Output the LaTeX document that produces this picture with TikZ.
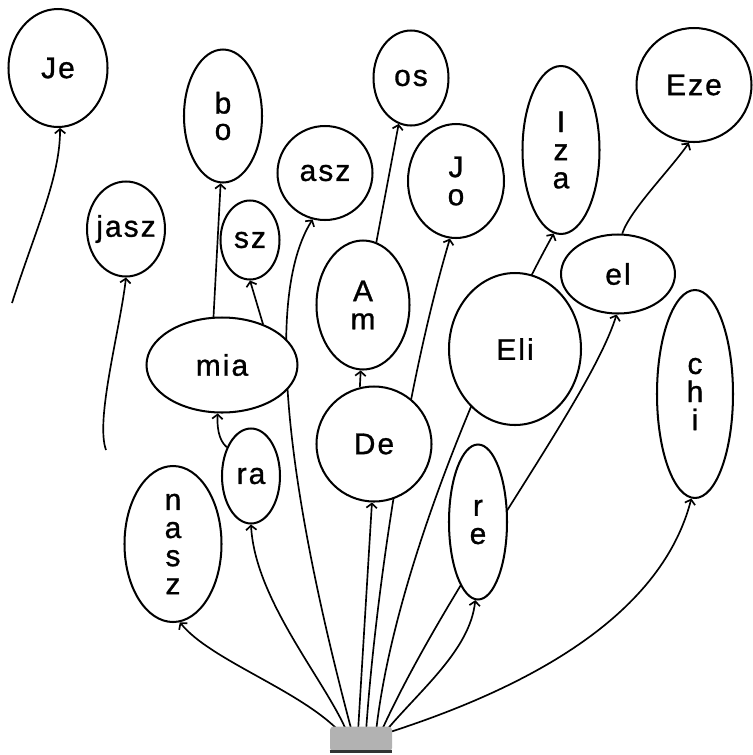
\documentclass[tikz,border=0pt]{standalone}
\usepackage{fontspec}
\setmainfont{Liberation Sans}
\usetikzlibrary{shapes.geometric,arrows.meta,backgrounds}

\newcommand\balloonfont{\fontsize{17}{16}\selectfont\addfontfeatures{LetterSpace=7,FakeBold=1}}

\tikzset{
  balloon/.style={ellipse, draw, line width=1.15pt, fill=white, inner sep=0pt},
  bsize/.style 2 args={minimum width=#1*0.02cm, minimum height=#2*0.02cm},
  tether/.style={line width=0.95pt, -{Straight Barb[length=2.5pt,width=6pt]}},
  basebox/.style={rectangle, fill=gray!60, inner sep=0pt, rounded corners=2pt,
    minimum width=62*0.02cm, minimum height=25*0.02cm},
  every label/.style={font=\balloonfont, align=center},
}

\begin{document}
\begin{tikzpicture}[x=0.02cm, y=-0.02cm]
    \useasboundingbox (0,0) rectangle (753,755);

    % balloons
    \node[balloon, bsize={99}{118}, label=center:Je] (Je) at (58,68) {};
    \node[balloon, bsize={78}{95}, label=center:jasz] (jasz) at (126,229) {};
    \node[balloon, bsize={78}{133}, label={center:b\\[-1pt]o}] (bo) at (223,116) {};
    \node[balloon, bsize={59}{79}, label=center:sz] (sz) at (250,240) {};
    \node[balloon, bsize={95}{94}, label=center:asz] (asz) at (325,173) {};
    \node[balloon, bsize={151}{95}, label=center:mia] (mia) at (222,365) {};
    \node[balloon, bsize={58}{95}, label=center:ra] (ra) at (251,476) {};
    \node[balloon, bsize={97}{156}, label={center:n\\a\\s\\z}] (nasz) at (173,544) {};
    \node[balloon, bsize={75}{95}, label=center:os] (os) at (411,78) {};
    \node[balloon, bsize={93}{129}, label={center:A\\m}] (Am) at (363,305) {};
    \node[balloon, bsize={115}{115}, label=center:De] (De) at (374,444) {};
    \node[balloon, bsize={96}{114}, label={center:J\\o}] (Jo) at (456,181) {};
    \node[balloon, bsize={77}{168}, label={center:I\\z\\a}] (Iza) at (561,150) {};
    \node[balloon, bsize={132}{152}, label=center:Eli] (Eli) at (515,349) {};
    \node[balloon, bsize={115}{114}, label=center:Eze] (Eze) at (694,85) {};
    \node[balloon, bsize={114}{79}, label=center:el] (el) at (618,274) {};
    \node[balloon, bsize={58}{155}, label={center:r\\e}] (re) at (478,522) {};
    \node[balloon, bsize={76}{208}, label={center:c\\h\\i}] (chi) at (695,394) {};

    % the weight all the strings meet in
    \node[basebox] (base) at (361,739) {};
    \draw[line width=1.6pt, black!80] (base.south west) -- (base.south east);
    \foreach \i/\x in {1/340,2/347,3/352,4/358,5/366,6/376,7/381,8/385,9/390}
        \coordinate (b\i) at (\x,732);

    \coordinate (je-end) at (12,303);
    \coordinate (jasz-end) at (106,450);

    \begin{scope}[on background layer]
        \draw[tether] (je-end) .. controls (36,228) and (60,178) .. (Je.272);
        \draw[tether] (jasz-end) .. controls (95,420) and (120,330) .. (jasz.south);
        \draw[tether] (mia.100) -- (bo.268);
        \draw[tether] (mia.45) -- (sz.south);
        \draw[tether] (ra.130) .. controls (218,440) and (217,425) .. (mia.265);
        \draw[tether] (De.104) -- (Am.268);
        \draw[tether] (Am.78) -- (os.255);
        \draw[tether] (el.84) .. controls (630,210) and (670,170) .. (Eze.265);
        % strings from the weight
        \draw[tether] (b1) .. controls (300,690) and (210,660) .. (nasz.275);
        \draw[tether] (b2) .. controls (325,680) and (255,600) .. (ra.south);
        \draw[tether] (b3) .. controls (290,500) and (262,300) .. (asz.255);
        \draw[tether] (b4) -- (De.268);
        \draw[tether] (b5) .. controls (375,600) and (405,390) .. (Jo.264);
        \draw[tether] (b6) .. controls (395,560) and (500,330) .. (Iza.265);
        \draw[tether] (b7) .. controls (450,580) and (590,400) .. (el.268);
        \draw[tether] (b8) .. controls (420,690) and (470,650) .. (re.268);
        \draw[tether] (b9) .. controls (520,690) and (660,620) .. (chi.268);
    \end{scope}
\end{tikzpicture}
\end{document}
